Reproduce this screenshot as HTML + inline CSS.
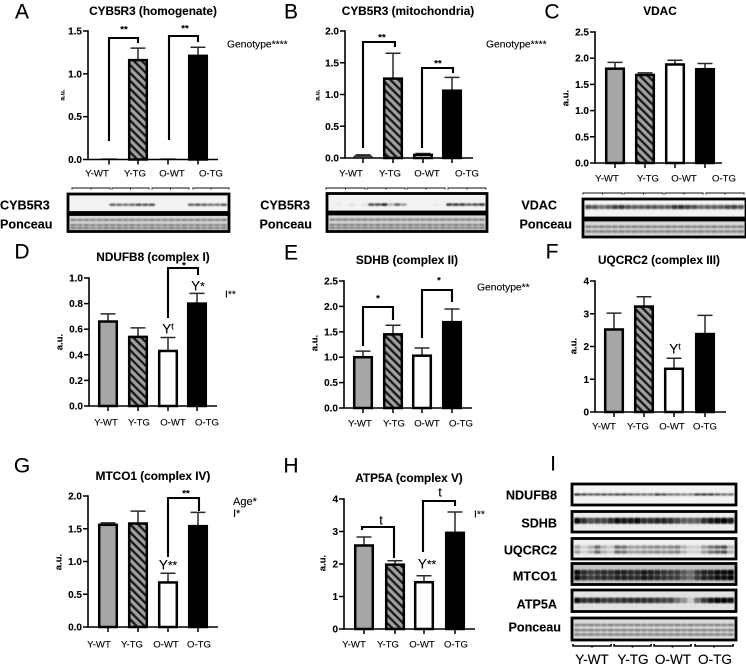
<!DOCTYPE html>
<html lang="en">
<head>
<meta charset="utf-8">
<title>Mitochondrial protein bar charts</title>
<style>
html,body{margin:0;padding:0;background:#fff;width:746px;height:665px;overflow:hidden}
svg{display:block;filter:blur(0.35px)}
text{font-family:"Liberation Sans",sans-serif;fill:#000;stroke:#000;stroke-width:0.12px}
</style>
</head>
<body>
<svg id="fig" xmlns="http://www.w3.org/2000/svg" width="746" height="665" viewBox="0 0 746 665">
<defs>
<pattern id="hatch" patternUnits="userSpaceOnUse" width="5.6" height="5.6" patternTransform="rotate(-45)">
<rect width="5.6" height="5.6" fill="#a0a0a0"></rect>
<rect width="2.4" height="5.6" fill="#1c1c1c"></rect>
</pattern>
</defs>
</svg>
<script>
const categories = ['Y-WT', 'Y-TG', 'O-WT', 'O-TG'];

const ticksA = [0, 0.5, 1, 1.5];
const meansA = [0.003, 1.16, 0.002, 1.21];
const errorTopsA = [0.005, 1.30, 0.004, 1.31];

const ticksB = [0, 0.5, 1, 1.5, 2];
const meansB = [0.03, 1.25, 0.05, 1.06];
const errorTopsB = [0.05, 1.65, 0.07, 1.27];

const ticksC = [0, 0.5, 1, 1.5, 2, 2.5];
const meansC = [1.80, 1.68, 1.88, 1.79];
const errorTopsC = [1.92, 1.72, 1.96, 1.90];

const ticksD = [0, 0.2, 0.4, 0.6, 0.8, 1];
const meansD = [0.66, 0.54, 0.43, 0.80];
const errorTopsD = [0.72, 0.61, 0.535, 0.88];

const ticksE = [0, 0.5, 1, 1.5, 2, 2.5];
const meansE = [1.00, 1.45, 1.03, 1.69];
const errorTopsE = [1.12, 1.63, 1.18, 1.95];

const ticksF = [0, 1, 2, 3, 4];
const meansF = [2.52, 3.22, 1.32, 2.38];
const errorTopsF = [3.02, 3.52, 1.64, 2.95];

const ticksG = [0, 0.5, 1, 1.5, 2];
const meansG = [1.56, 1.58, 0.68, 1.54];
const errorTopsG = [1.59, 1.77, 0.82, 1.75];

const ticksH = [0, 1, 2, 3, 4];
const meansH = [2.57, 1.98, 1.44, 2.96];
const errorTopsH = [2.83, 2.10, 1.64, 3.60];

const lanesCybA = [0,0,0,0,0,0,.7,.65,.6,.65,.8,.75,.8,0,0,0,0,0,.7,.75,.7,.6,.6,.75];
const lanesCybB = [0,.05,0,.1,0,.05,.8,.8,1,.3,.7,.4,0,0,0,0,.05,0,.9,.9,.9,.7,.8,.9];
const lanesVdac = [.8,.75,.6,.7,.85,.9,.75,.7,.7,.75,.75,.7,.7,.9,.95,.85,.8,.65,.7,.7,.7,.8,.85,.75];
const lanesNdufb8 = [.9,.8,.7,.75,.75,.7,.8,.8,.7,.65,.6,.6,.85,.75,.6,.6,.5,.5,.85,.85,.85,.7,.6,.6];
const lanesSdhb = [.95,.8,.65,.7,.7,.8,.95,.9,.9,.95,.8,.8,.85,.85,.8,.7,.6,.6,.6,.8,.9,.95,1,.9];
const lanesUqcrc2 = [.4,.15,.3,.65,.3,.2,.65,.6,.4,.4,.45,.45,.5,.45,.5,.55,.3,.15,.15,.4,.6,.7,.8,.3];
const lanesMtco1 = [.95,.8,.7,.75,.8,.75,.85,.85,.8,.8,.9,.85,.8,.75,.7,.7,.55,.45,.7,.85,.85,.95,.95,1];
const lanesAtp5a = [.95,.8,.8,.85,.75,.75,.75,.8,.8,.8,.8,.8,.75,.7,.7,.5,.35,.1,.5,.75,.9,1,1,.95];
const lanesPonceau = [.7,.65,.7,.65,.65,.7,.65,.7,.65,.7,.65,.65,.7,.65,.65,.7,.65,.7,.65,.7,.65,.7,.65,.7];

const SVGNS = 'http://www.w3.org/2000/svg';
const svg = document.getElementById('fig');

function mk(tag, attrs, parent) {
  const el = document.createElementNS(SVGNS, tag);
  for (const k in attrs) el.setAttribute(k, attrs[k]);
  (parent || svg).appendChild(el);
  return el;
}
function label(parent, x, y, str, size, weight, anchor) {
  const el = mk('text', {x: x, y: y, 'font-size': size, 'font-weight': weight || 'normal', 'text-anchor': anchor || 'middle', dy: '.35em'}, parent);
  el.textContent = str;
  return el;
}

const panels = [
  {id:'a', letter:'A', lx:22, ly:11, title:'CYB5R3 (homogenate)', tx:153, ty:11, x0:88, x1:218, y0:159.5, yTop:31, yMax:1.5,
   ticks:ticksA, means:meansA, errs:errorTopsA, centers:[109,138,168,198], cx:[97,135,172,211], cy:173, dec:1,
   au:[62,95,6.5], brackets:[{a:109,b:138,top:38,aEnd:141,bEnd:43,s:'**',sx:124,sy:29},{a:169,b:198,top:36,aEnd:140,bEnd:42,s:'**',sx:185,sy:28}]},
  {id:'b', letter:'B', lx:291, ly:11, title:'CYB5R3 (mitochondria)', tx:408, ty:11, x0:345, x1:473, y0:158, yTop:31, yMax:2,
   ticks:ticksB, means:meansB, errs:errorTopsB, centers:[363,393,423,452], cx:[351,390,427,467], cy:173, dec:1,
   au:[317,95,6.5], brackets:[{a:363,b:395,top:42,aEnd:148,bEnd:47,s:'**',sx:382,sy:37},{a:422,b:453,top:68,aEnd:148,bEnd:73,s:'**',sx:438,sy:63}]},
  {id:'c', letter:'C', lx:552, ly:11, title:'VDAC', tx:660, ty:11, x0:595, x1:722, y0:163, yTop:32, yMax:2.5,
   ticks:ticksC, means:meansC, errs:errorTopsC, centers:[615,645,675,705], cx:[607,648,684,724], cy:178, dec:1,
   au:[565,98,9.5], brackets:[]},
  {id:'d', letter:'D', lx:22, ly:251, title:'NDUFB8 (complex I)', tx:153, ty:257, x0:89, x1:217, y0:406, yTop:278, yMax:1,
   ticks:ticksD, means:meansD, errs:errorTopsD, centers:[108,138,168,197], cx:[106,139,173,207], cy:422, dec:1,
   au:[59,342,9.5], brackets:[{a:168,b:198,top:268,aEnd:318,bEnd:275,s:'*',sx:184,sy:265}]},
  {id:'e', letter:'E', lx:291, ly:252, title:'SDHB (complex II)', tx:407, ty:260, x0:344, x1:472, y0:408, yTop:281, yMax:2.5,
   ticks:ticksE, means:meansE, errs:errorTopsE, centers:[363,393,422,452], cx:[360,394,427,461], cy:423, dec:1,
   au:[314,343,9.5], brackets:[{a:363,b:393,top:307,aEnd:346,bEnd:320,s:'*',sx:378,sy:298},{a:422,b:452,top:290,aEnd:338,bEnd:302,s:'*',sx:439,sy:280}]},
  {id:'f', letter:'F', lx:552, ly:251, title:'UQCRC2 (complex III)', tx:659, ty:260, x0:595, x1:726, y0:412, yTop:281, yMax:4,
   ticks:ticksF, means:meansF, errs:errorTopsF, centers:[614,644,674,705], cx:[604,638,672,705], cy:426, dec:0,
   au:[573,346,9.5], brackets:[]},
  {id:'g', letter:'G', lx:22, ly:465, title:'MTCO1 (complex IV)', tx:153, ty:476, x0:88, x1:218, y0:627, yTop:496, yMax:2,
   ticks:ticksG, means:meansG, errs:errorTopsG, centers:[108,138,168,198], cx:[99,132,166,199], cy:644, dec:1,
   au:[58,562,9.5], brackets:[{a:168,b:199,top:498,aEnd:557,bEnd:511,s:'**',sx:186,sy:493}]},
  {id:'h', letter:'H', lx:291, ly:465, title:'ATP5A (complex V)', tx:409, ty:478, x0:344, x1:475, y0:629, yTop:499, yMax:4,
   ticks:ticksH, means:meansH, errs:errorTopsH, centers:[364,395,424,455], cx:[354,388,422,456], cy:644, dec:0,
   au:[322,563,9.5], brackets:[{a:362,b:394,top:527,aEnd:530,bEnd:558,s:'t',sx:381,sy:520,big:true},{a:423,b:455,top:501,aEnd:552,bEnd:506,s:'t',sx:440,sy:492,big:true}]}
];

const fills = ['#a6a6a6', 'url(#hatch)', '#ffffff', '#000000'];

panels.forEach(function (p) {
  const g = mk('g', {});
  
  
  const yScale = function (v) { return p.y0 - (v / p.yMax) * (p.y0 - p.yTop); };

  const letter = label(g, p.lx, p.ly, p.letter, 21, 'normal');
  
  

  const title = label(g, p.tx, p.ty, p.title, 11.8, 'bold');
  
  

  const au = label(g, 0, 0, 'a.u.', p.au[2], 'bold');
  au.setAttribute('transform', 'translate(' + p.au[0] + ',' + p.au[1] + ') rotate(-90)');
  
  

  p.means.forEach(function (m, i) {
    const c = p.centers[i];
    const err = mk('path', {d: 'M' + c + ' ' + yScale(m) + 'V' + yScale(p.errs[i]) + 'M' + (c - 7.5) + ' ' + yScale(p.errs[i]) + 'H' + (c + 7.5), stroke: '#2a2a2a', 'stroke-width': 1.5, fill: 'none'}, g);
    
    
    const h = p.y0 - yScale(m);
    const bar = mk('rect', {x: c - 8.8, y: yScale(m), width: 17.6, height: h, fill: fills[i], stroke: '#000', 'stroke-width': h > 2 ? 2.5 : 1}, g);
    
    
    const tick = mk('line', {x1: c, x2: c, y1: p.y0, y2: p.y0 + 5, stroke: '#000', 'stroke-width': 1.5}, g);
    
    
    const cat = label(g, p.cx[i], p.cy, categories[i], 9.6);
    
    
  });

  const axisY = mk('line', {x1: p.x0, x2: p.x0, y1: p.yTop - 0.8, y2: p.y0 + 0.8, stroke: '#000', 'stroke-width': 1.6}, g);
  
  
  const axisX = mk('line', {x1: p.x0, x2: p.x1, y1: p.y0, y2: p.y0, stroke: '#000', 'stroke-width': 1.6}, g);
  
  

  p.ticks.forEach(function (v) {
    const tick = mk('line', {x1: p.x0 - 5, x2: p.x0, y1: yScale(v), y2: yScale(v), stroke: '#000', 'stroke-width': 1.5}, g);
    
    
    const tl = label(g, p.x0 - 6, yScale(v), v.toFixed(p.dec), 10, 'bold', 'end');
    
    
  });

  p.brackets.forEach(function (b) {
    const br = mk('path', {d: 'M' + b.a + ' ' + b.aEnd + 'V' + b.top + 'H' + b.b + 'V' + b.bEnd, fill: 'none', stroke: '#000', 'stroke-width': 2.1}, g);
    
    
    const s = label(g, b.sx, b.sy, b.s, b.big ? 13 : 9.5, b.big ? 'normal' : 'bold');
    
    
  });
});

const notes = [
  ['Genotype****', 227, 44, 10.3], ['Genotype****', 486, 44, 10.3], ['Genotype**', 477, 287, 10.3],
  ['I**', 225, 294, 10.3], ['Age*', 233, 501, 11], ['I*', 233, 513, 11], ['I**', 474, 514, 10.3]
];
notes.forEach(function (n) {
  const el = label(svg, n[1], n[2], n[0], n[3], 'normal', 'start');
  
  
});

const compareMarks = [
  ['Y', 't', 168, 329], ['Y', '*', 198, 286], ['Y', 't', 675, 349], ['Y', '**', 168, 565], ['Y', '**', 427, 564]
];
compareMarks.forEach(function (m) {
  const el = mk('text', {x: m[2], y: m[3], 'font-size': 13.5, 'text-anchor': 'middle', dy: '.35em'});
  el.textContent = m[0];
  if (m[1] === 't') {
    const sup = mk('tspan', {dy: '-4', 'font-size': 9}, el);
    sup.textContent = m[1];
  } else {
    const sup = mk('tspan', {'font-size': 12}, el);
    sup.textContent = m[1];
  }
  
  
});

function drawBlot(name, x, y, w, h, lanes, bandFracs, bandH, bg, ink) {
  const g = mk('g', {});
  
  
  mk('rect', {x: x, y: y, width: w, height: h, fill: bg}, g);
  const soft = mk('g', {style: 'filter:blur(0.7px)'}, g);
  const lw = (w - 4) / lanes.length;
  lanes.forEach(function (v, i) {
    bandFracs.forEach(function (f) {
      mk('rect', {x: x + 2 + i * lw + 0.2, y: y + h * f - bandH / 2, width: lw - 0.3, height: bandH, rx: 1, fill: ink, opacity: v}, soft);
    });
  });
  mk('rect', {x: x, y: y, width: w, height: h, fill: 'none', stroke: '#000', 'stroke-width': 2.8}, g);
}

const W = '#f3f3f3', P = '#d6d6d6', PI = '#555555';
drawBlot('blot-cyb5r3-homogenate', 68, 194, 161, 18.5, lanesCybA, [.58], 2.2, W, '#111');
drawBlot('blot-ponceau-a', 68, 214.5, 161, 17, lanesPonceau, [.32, .62, .8], 2.2, P, PI);
drawBlot('blot-cyb5r3-mitochondria', 327, 193.5, 160, 18.5, lanesCybB, [.6], 2.4, W, '#111');
drawBlot('blot-ponceau-b', 327, 214, 160, 17.5, lanesPonceau, [.32, .62, .8], 2.2, P, PI);
drawBlot('blot-vdac', 583, 199, 163, 19, lanesVdac, [.42], 4.2, W, '#222');
drawBlot('blot-ponceau-c', 583, 220, 163, 17, lanesPonceau, [.4, .68], 2.5, P, PI);

drawBlot('blot-ndufb8', 572, 484, 164, 21, lanesNdufb8, [.5], 2.2, W, '#111');
drawBlot('blot-sdhb', 572, 511.5, 164, 20.5, lanesSdhb, [.45], 6, '#ececec', '#000');
drawBlot('blot-uqcrc2', 572, 538.5, 164, 20.5, lanesUqcrc2, [.42, .66], 3.5, '#efefef', '#222');
drawBlot('blot-mtco1', 572, 563.5, 164, 21, lanesMtco1, [.42, .68], 5, '#c4c4c4', '#000');
drawBlot('blot-atp5a', 572, 590, 164, 21.5, lanesAtp5a, [.48], 5.5, '#e2e2e2', '#000');
drawBlot('blot-ponceau-i', 572, 618, 164, 22, lanesPonceau, [.32, .55, .75], 2.5, '#dadada', PI);

const groupBrackets = [
  [72, 110, 188], [112, 149, 188], [152, 189, 188], [193, 229, 188],
  [326, 365, 188], [367, 405, 188], [407, 445, 188], [448, 486, 188],
  [583, 622, 193], [624, 663, 193], [665, 703, 193], [706, 744, 193]
];
groupBrackets.forEach(function (b) {
  const el = mk('path', {d: 'M' + b[0] + ' ' + (b[2] + 1.5) + 'V' + b[2] + 'H' + b[1] + 'V' + (b[2] + 1.5) + 'M' + (b[0] + b[1]) / 2 + ' ' + b[2] + 'v1.5', fill: 'none', stroke: '#111', 'stroke-width': 1});
  
  
});
const groupBracketsI = [[573, 611], [614, 651], [654, 691], [695, 733]];
groupBracketsI.forEach(function (b) {
  const el = mk('path', {d: 'M' + b[0] + ' 644V646H' + b[1] + 'V644M' + (b[0] + b[1]) / 2 + ' 646v1.5', fill: 'none', stroke: '#000', 'stroke-width': 1.6});
  
  
});

const blotLabels = [
  ['CYB5R3', 0, 205, 'start'], ['Ponceau', 0, 224, 'start'],
  ['CYB5R3', 310, 205, 'end'], ['Ponceau', 312, 224, 'end'],
  ['VDAC', 557, 205, 'end'], ['Ponceau', 572, 224, 'end'],
  ['NDUFB8', 557, 495, 'end'], ['SDHB', 557, 523, 'end'], ['UQCRC2', 557, 550, 'end'],
  ['MTCO1', 557, 576, 'end'], ['ATP5A', 557, 604, 'end'], ['Ponceau', 561, 627, 'end']
];
blotLabels.forEach(function (b) {
  const el = label(svg, b[1], b[2], b[0], 12.6, 'bold', b[3]);
  
  
});

const laneGroupX = [592, 633, 673, 715];
categories.forEach(function (c, i) {
  const el = label(svg, laneGroupX[i], 659, c, 13.6);
  
  
});

const letterI = label(svg, 553, 463, 'I', 21);


</script>
</body>
</html>
